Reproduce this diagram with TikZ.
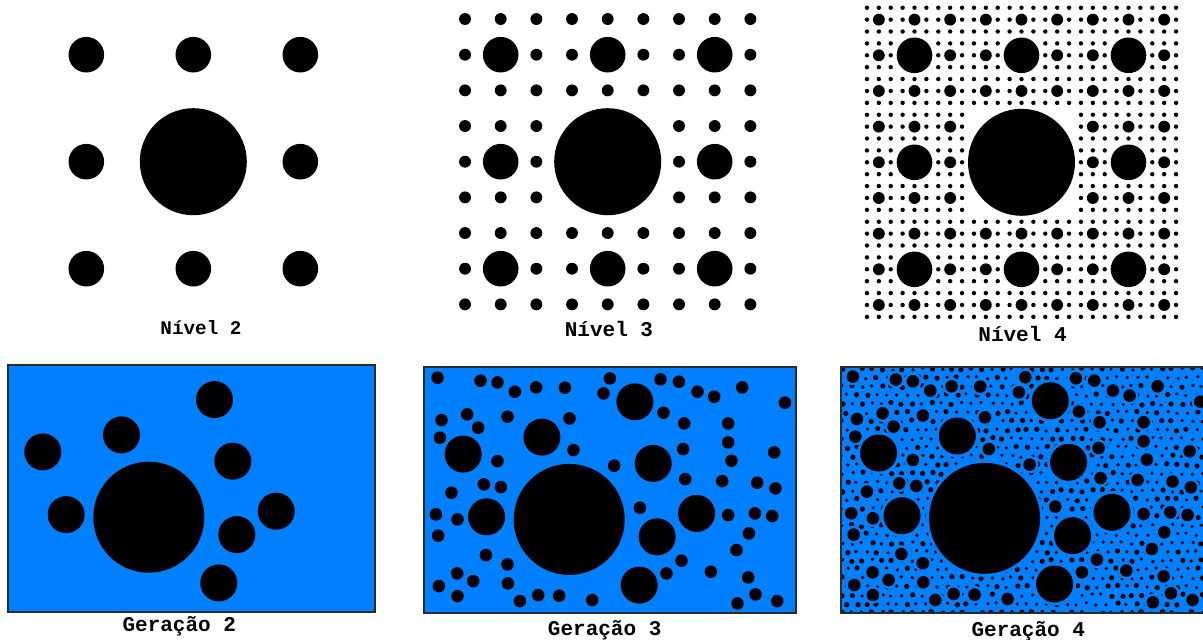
\documentclass[tikz,border=0pt]{standalone}
\usepackage{fontspec}
\newfontfamily\monofont{Liberation Mono}
\usepackage{tikz}
\definecolor{gBlue}{HTML}{0080FF}
\definecolor{frameGray}{HTML}{2B2B2B}
% the eight outer cells of a 3x3 block
\newcommand\ringcells{-1/-1, 0/-1, 1/-1, -1/0, 1/0, -1/1, 0/1, 1/1}
% grains relative to the big grain of a generation panel
\newcommand\mediumgrains{65.7/-117.6, -27.3/-82.3, -106/-65.3, 84/-56,
  -82.6/-2.6, 127.4/-6, 88/17.4, 70/65.7}
\newcommand\smallgrains{-131.7/-141.7, -88.7/-138.7, -71.7/-137, -54.3/-127.7,
  -33/-132, -4.3/-131.7, 40.7/-141, 34.3/-126, 91.3/-140, 109.7/-137.7,
  128.3/-127.7, 145/-122.7, 173/-132, 215.7/-116.7, -127.7/-99.3, -102/-105,
  -91/-91.7, -61.7/-102.7, 0.3/-101, 94.3/-106.7, 115/-96, 159/-96,
  -129.3/-81.7, 4.3/-69.3, 114/-70.3, 159/-77, 205/-67, -71.7/-58.3,
  45/-53.7, 162.3/-58.7, -85.3/-35, -68.3/-32.3, -117.7/-26.7, 116/-40.3,
  153/-38.3, 188/-36.7, 206.3/-31, -133.3/-5, -111.7/0, 70.7/-11.7,
  159/-4.3, 185.7/-6, 203/-3.3, -131/16.3, 179.7/14, -83.3/35.7, -61.7/45,
  167.3/30.7, -112/54, -96/61.7, -130.3/66.7, -61.3/64, 112.3/41.3, 97.3/54,
  141.7/52.3, 179/58, -111.7/76.7, -49.3/81.7, -31/75.7, -10/76.3, 23/80.7,
  186.3/75, 168.3/84, 208/81.7}

\begin{document}
\begin{tikzpicture}[x=1pt, y=-1pt,
    lbl/.style={font=\monofont\bfseries\fontsize{#1}{#1}\selectfont, anchor=base, inner sep=0pt},
    lbl/.default=21,
    grain/.style={fill=black},
    halo/.style={fill=gBlue},
    frame/.style={draw=frameGray, line width=1.8pt}]
  \useasboundingbox (0,0) rectangle (1203,640);

  % regular levels
  \foreach \cx/\cy/\lvl in {193.3/161.7/2, 607.7/161.7/3, 1021.5/162.3/4} {
    \fill[grain] (\cx,\cy) circle (53.5);
    \foreach \ax/\ay in \ringcells {
      \fill[grain] (\cx+\ax*107,\cy+\ay*107) circle (17.8);
      \ifnum\lvl>2
        \foreach \bx/\by in \ringcells {
          \fill[grain] (\cx+\ax*107+\bx*35.67,\cy+\ay*107+\by*35.67) circle (5.95);
          \ifnum\lvl>3
            \foreach \kx/\ky in \ringcells
              \fill[grain] (\cx+\ax*107+\bx*35.67+\kx*11.89,\cy+\ay*107+\by*35.67+\ky*11.89) circle (2.2);
          \fi
        }
      \fi
    }
  }
  \node[lbl=19.3] (niv2) at (201,334.3) {Nível 2};
  \node[lbl] (niv3) at (609,336) {Nível 3};
  \node[lbl] (niv4) at (1022.5,341.5) {Nível 4};

  % random generations
  \fill[gBlue] (8.3,365) rectangle (375,611.7);
  \fill[gBlue] (424.3,366.7) rectangle (796,613.3);
  \fill[gBlue] (840.7,366.7) rectangle (1215,613);
  \begin{scope}
    \clip (840.7,366.7) rectangle (1203,613);
    \pgfmathsetseed{11}
    \foreach \j in {0,...,28}
      \foreach \i in {0,...,36} {
        \pgfmathsetmacro\px{842+\i*10+mod(\j,2)*5+1.3*rand}
        \pgfmathsetmacro\py{369+\j*8.7+1.3*rand}
        \pgfmathsetmacro\pr{rnd<0.4 ? 2.6 : 1.8}
        \fill[grain] (\px,\py) circle (\pr);
      }
  \end{scope}
  \foreach \bx/\by/\lvl in {148.8/517.2/2, 569.2/519.4/3, 984.6/518.3/4} {
    \begin{scope}[shift={(\bx,\by)}]
      \ifnum\lvl>3
        \fill[halo] (0,0) circle (58.5);
        \foreach \gx/\gy in \mediumgrains \fill[halo] (\gx,\gy) circle (21.5);
        \foreach \gx/\gy in \smallgrains \fill[halo] (\gx,\gy) circle (8.8);
      \fi
      \fill[grain] (0,0) circle (55.5);
      \foreach \gx/\gy in \mediumgrains \fill[grain] (\gx,\gy) circle (18.5);
      \ifnum\lvl>2
        \foreach \gx/\gy in \smallgrains \fill[grain] (\gx,\gy) circle (6.3);
      \fi
    \end{scope}
  }
  \draw[frame] (8.3,365) rectangle (375,611.7);
  \draw[frame] (424.3,366.7) rectangle (796,613.3);
  \draw[frame] (840.7,366.7) rectangle (1215,613);
  \node[lbl] (ger2) at (179.3,631.6) {Geração 2};
  \node[lbl] (ger3) at (604.7,635) {Geração 3};
  \node[lbl] (ger4) at (1028.3,636.6) {Geração 4};
\end{tikzpicture}
\end{document}
